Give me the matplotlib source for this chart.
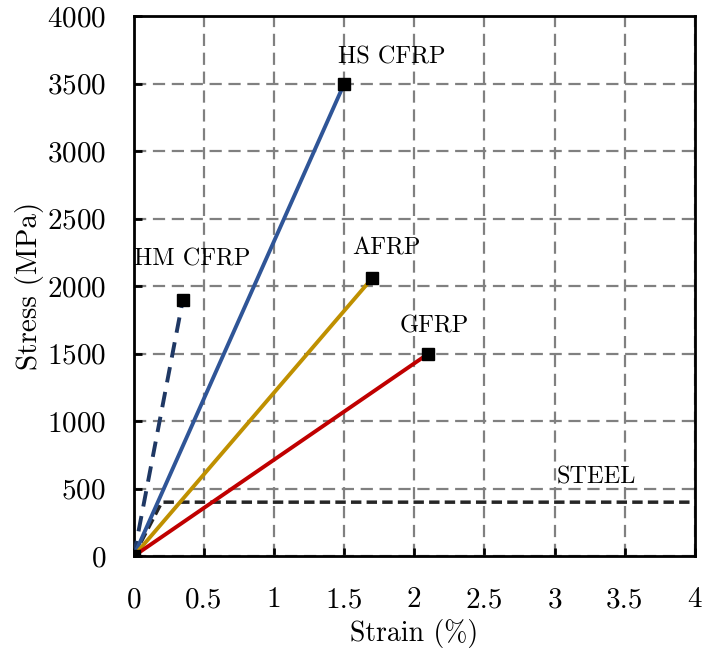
import matplotlib
matplotlib.use("Agg")
import matplotlib.pyplot as plt

plt.rcParams["font.family"] = ["cmr10", "DejaVu Serif"]
plt.rcParams["mathtext.fontset"] = "cm"
plt.rcParams["axes.formatter.use_mathtext"] = True

# Ultimate strain (%) and tensile strength (MPa) for each material
materials = ["HM CFRP", "HS CFRP", "AFRP", "GFRP"]
strain = [0.35, 1.5, 1.7, 2.1]
stress = [1900, 3500, 2060, 1500]
colors = ["#1f3864", "#2f5597", "#bf9000", "#c00000"]
styles = [(0, (4, 2.5)), "-", "-", "-"]

# Steel: yield at 0.2 % / 400 MPa, then plateau
steel_strain = [0, 0.2, 4.0]
steel_stress = [0, 400, 400]

xticks = [0, 0.5, 1, 1.5, 2, 2.5, 3, 3.5, 4]
yticks = list(range(0, 4001, 500))

fig = plt.figure(figsize=(7.04, 6.52), dpi=100)
ax = fig.add_axes([0.190, 0.147, 0.797, 0.828])

ax.plot(steel_strain, steel_stress, color="#262626", lw=2.5,
        linestyle=(0, (3, 1.5)), zorder=3)

for name, e, s, c, ls in zip(materials, strain, stress, colors, styles):
    ax.plot([0, e], [0, s], color=c, lw=2.8, linestyle=ls, zorder=4)
    ax.plot([e], [s], marker="s", color="black", ms=8, zorder=5)

ax.plot([0], [0], marker="s", color="black", ms=8, zorder=5)

# Curve labels
label_pos = {
    "HM CFRP": (0.42, 2120),
    "HS CFRP": (1.84, 3610),
    "AFRP": (1.8, 2200),
    "GFRP": (2.14, 1620),
}
for name in materials:
    x, y = label_pos[name]
    ax.text(x, y, name, fontsize=17.5, ha="center", va="bottom")
ax.text(3.3, 500, "STEEL", fontsize=17.5, ha="center", va="bottom")

ax.set_xlim(0, 4)
ax.set_ylim(0, 4000)
ax.set_xticks(xticks)
ax.set_xticklabels([f"{t:g}" for t in xticks])
ax.set_yticks(yticks)
ax.tick_params(direction="in", length=6, width=2, labelsize=21)
ax.tick_params(axis="x", pad=22)
ax.tick_params(axis="y", pad=20)

ax.grid(True, color="#808080", linestyle=(0, (5.5, 3)), lw=1.6)
ax.set_axisbelow(True)
for sp in ax.spines.values():
    sp.set_linewidth(2)

ax.set_xlabel("Strain (%)", fontsize=20, labelpad=4)
ax.set_ylabel("Stress (MPa)", fontsize=21, labelpad=2)

fig.savefig("out.png", dpi=100)
